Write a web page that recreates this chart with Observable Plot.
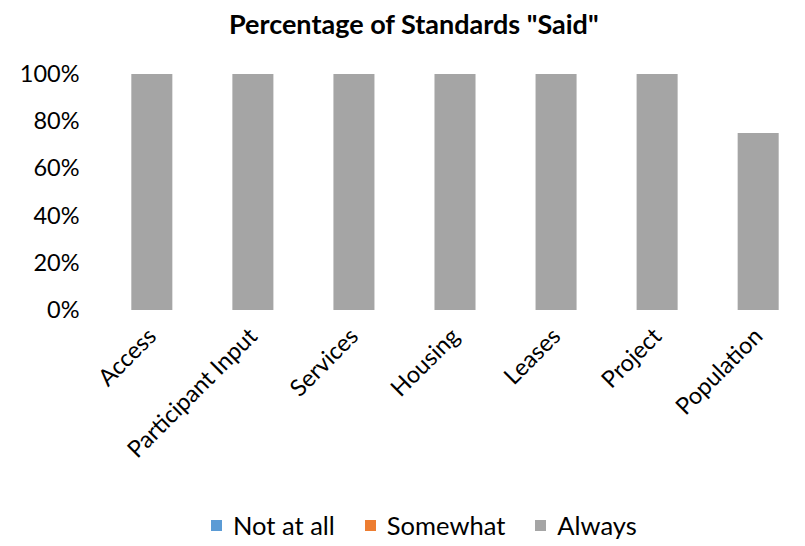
<!DOCTYPE html>
<html>
<head>
<meta charset="utf-8">
<script src="https://cdn.jsdelivr.net/npm/d3@7"></script>
<script src="https://cdn.jsdelivr.net/npm/@observablehq/plot@0.6"></script>
<style>
  html, body { margin: 0; padding: 0; background: #fff; }
  body { width: 805px; height: 546px; position: relative; overflow: hidden; font-family: Lato, "Open Sans", sans-serif; }
  #title { position: absolute; left: 229px; top: 7px; white-space: nowrap; font-weight: bold; font-size: 27px; color: #000; }
  #chart { position: absolute; left: 0; top: 50px; }
  #legend { position: absolute; left: 211px; top: 510px; display: flex; gap: 30px; font-size: 25.5px; color: #000; white-space: nowrap; }
  .item { display: flex; align-items: center; gap: 11px; }
  .sw { width: 11px; height: 11px; display: inline-block; }
</style>
</head>
<body>
<div id="title">Percentage of Standards "Said"</div>
<div id="chart"></div>
<div id="legend"></div>
<script>
const categories = ["Access", "Participant Input", "Services", "Housing", "Leases", "Project", "Population"];
const seriesNames = ["Not at all", "Somewhat", "Always"];
const seriesColors = ["#5b9bd5", "#ed7d31", "#a5a5a5"];
const notAtAll = [0, 0, 0, 0, 0, 0, 0];
const somewhat = [0, 0, 0, 0, 0, 0, 0];
const always = [1, 1, 1, 1, 1, 1, 0.75];
const yTicks = [0, 0.2, 0.4, 0.6, 0.8, 1];

const seriesValues = [notAtAll, somewhat, always];
const data = [];
seriesNames.forEach((s, si) => {
  categories.forEach((c, ci) => {
    data.push({category: c, series: s, value: seriesValues[si][ci]});
  });
});

const chart = Plot.plot({
  width: 805,
  height: 455,
  marginLeft: 102,
  marginRight: 0,
  marginTop: 24,
  marginBottom: 195,
  style: {fontFamily: "Lato, 'Open Sans', sans-serif", fontSize: "23px", color: "#000", background: "transparent"},
  x: {domain: categories, range: [101, 809], round: false, paddingInner: 0.594, paddingOuter: 0.3, label: null},
  y: {domain: [0, 1], label: null},
  color: {domain: seriesNames, range: seriesColors},
  marks: [
    Plot.ruleY(yTicks, {x1: 102, x2: 805, stroke: "#d9d9d9", strokeWidth: 1.5}),
    Plot.barY(data, Plot.stackY({x: "category", y: "value", fill: "series", order: seriesNames})),
    Plot.axisY({ticks: yTicks, tickFormat: d => Math.round(d * 100) + "%", tickSize: 0, tickPadding: 23, fontSize: 23.5}),
    Plot.axisX({tickSize: 0, tickPadding: 22, tickRotate: -45, fontSize: 23.5})
  ]
});
document.getElementById("chart").appendChild(chart);

const legend = document.getElementById("legend");
seriesNames.forEach((s, i) => {
  const item = document.createElement("div");
  item.className = "item";
  const sw = document.createElement("span");
  sw.className = "sw";
  sw.style.background = seriesColors[i];
  const t = document.createElement("span");
  t.textContent = s;
  item.appendChild(sw);
  item.appendChild(t);
  legend.appendChild(item);
});
</script>
</body>
</html>
